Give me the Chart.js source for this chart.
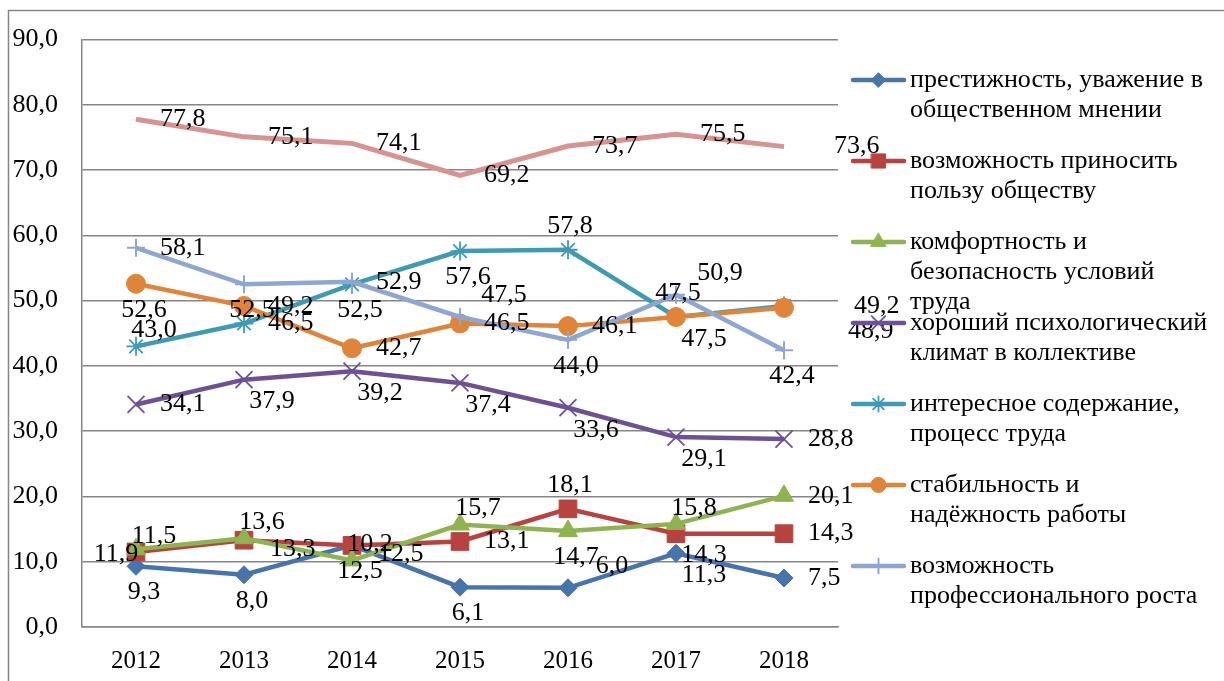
<!DOCTYPE html>
<html>
<head>
<meta charset="utf-8">
<script src="https://cdn.jsdelivr.net/npm/chart.js"></script>
<style>
  body { margin: 0; background: #fff; }
  #wrap { width: 1224px; height: 681px; position: relative; }
</style>
</head>
<body>
<div id="wrap"><canvas id="chart"></canvas></div>
<script>
// years on the x axis
const years = ['2012', '2013', '2014', '2015', '2016', '2017', '2018'];

// series values, %
const prestige = [9.3, 8.0, 12.5, 6.1, 6.0, 11.3, 7.5];
const socialBenefit = [11.5, 13.3, 12.5, 13.1, 18.1, 14.3, 14.3];
const comfort = [11.9, 13.6, 10.2, 15.7, 14.7, 15.8, 20.1];
const climate = [34.1, 37.9, 39.2, 37.4, 33.6, 29.1, 28.8];
const content = [43.0, 46.5, 52.5, 57.6, 57.8, 47.5, 49.2];
const stability = [52.6, 49.2, 42.7, 46.5, 46.1, 47.5, 48.9];
const growth = [58.1, 52.5, 52.9, 47.5, 44.0, 50.9, 42.4];
const series8 = [77.8, 75.1, 74.1, 69.2, 73.7, 75.5, 73.6];

// legend names, wrapped as in the picture
const names = [
  ['престижность, уважение в', 'общественном мнении'],
  ['возможность приносить', 'пользу обществу'],
  ['комфортность и', 'безопасность условий', 'труда'],
  ['хороший психологический', 'климат в коллективе'],
  ['интересное содержание,', 'процесс труда'],
  ['стабильность и', 'надёжность работы'],
  ['возможность', 'профессионального роста'],
];

const yTicks = { min: 0, max: 90, step: 10 };

const FONT = 'Liberation Serif';
const fmt = v => v.toFixed(1).replace('.', ',');

// label placement relative to the point
const OFF = {
  r:   { align: 'left',   dx: 24, dy: 0 },
  rb:  { align: 'left',   dx: 26, dy: 9 },
  rm:  { align: 'left',   dx: 50, dy: 0 },
  rr:  { align: 'left',   dx: 70, dy: 0 },
  rrb: { align: 'left',   dx: 64, dy: 23 },
  b:   { align: 'center', dx: 8,  dy: 26 },
  a:   { align: 'center', dx: 2,  dy: -24 },
  au:  { align: 'center', dx: 18, dy: -16 },
  ar:  { align: 'center', dx: 44, dy: -22 },
  br:  { align: 'center', dx: 28, dy: 22 },
  l:   { align: 'center', dx: -20, dy: 5 },
};

function series(i, label, data, color, style, radius, bw, labelPos) {
  return {
    label: label,
    data: data,
    borderColor: color,
    backgroundColor: color,
    borderWidth: 4.5,
    pointStyle: style,
    pointRadius: radius,
    pointBorderWidth: bw,
    pointBackgroundColor: color,
    pointBorderColor: color,
    tension: 0,
    order: -i,
    labelPos: labelPos,
    legendLines: names[i],
  };
}

const datasets = [
  series(0, names[0].join(' '), prestige, '#4674AD', 'rectRot', 9, 1, ['b','b','b','b','ar','br','r']),
  series(1, names[1].join(' '), socialBenefit, '#B6433F', 'rect', 12.5, 1, ['au','rb','rb','r','a','br','r']),
  series(2, names[2].join(' '), comfort, '#8EB44F', 'triangle', 11, 1, ['l','au','au','au','b','au','r']),
  series(3, names[3].join(' '), climate, '#6E5194', 'crossRot', 12, 1.8, ['r','br','br','br','br','br','r']),
  series(4, names[4].join(' '), content, '#3E9BB3', 'star', 9.5, 1.8, ['au','r','b','b','a','br','rr']),
  series(5, names[5].join(' '), stability, '#E0843A', 'circle', 9.5, 1, ['b','r','r','r','r','a','rrb']),
  series(6, names[6].join(' '), growth, '#8DA7D2', 'cross', 9, 2, ['r','b','r','ar','b','ar','b']),
  series(7, 'Ряд8', series8, '#D69391', 'circle', 0, 0, ['r','r','r','r','r','r','rm']),
];
datasets[7].legendLines = null;
datasets[7].borderWidth = 5;

const valueLabels = {
  id: 'valueLabels',
  afterDatasetsDraw(chart) {
    const ctx = chart.ctx;
    ctx.save();
    ctx.font = '26px "' + FONT + '"';
    ctx.fillStyle = '#000';
    ctx.textBaseline = 'middle';
    chart.data.datasets.forEach((ds, i) => {
      const meta = chart.getDatasetMeta(i);
      meta.data.forEach((pt, j) => {
        const o = OFF[ds.labelPos[j]];
        ctx.textAlign = o.align;
        ctx.fillText(fmt(ds.data[j]), pt.x + o.dx, pt.y + o.dy);
      });
    });
    ctx.restore();
  }
};

const sideLegend = {
  id: 'sideLegend',
  afterDraw(chart, args, opts) {
    const ctx = chart.ctx;
    ctx.save();
    let n = 0;
    chart.data.datasets.forEach(ds => {
      if (!ds.legendLines) return;
      const y = opts.top + n * opts.step;
      ctx.strokeStyle = ds.borderColor;
      ctx.lineWidth = 4.5;
      ctx.lineCap = 'round';
      ctx.beginPath();
      ctx.moveTo(opts.x0, y);
      ctx.lineTo(opts.x1, y);
      ctx.stroke();
      ctx.fillStyle = ds.borderColor;
      ctx.lineWidth = ds.pointBorderWidth;
      Chart.helpers.drawPoint(ctx, {
        pointStyle: ds.pointStyle,
        radius: ds.pointRadius * 0.8,
        rotation: 0,
        borderWidth: ds.pointBorderWidth
      }, (opts.x0 + opts.x1) / 2, y);
      ctx.fillStyle = '#000';
      ctx.font = '26px "' + FONT + '"';
      ctx.textAlign = 'left';
      ctx.textBaseline = 'middle';
      ds.legendLines.forEach((line, k) => {
        ctx.fillText(line, opts.textX, y + k * opts.lineGap);
      });
      n++;
    });
    ctx.restore();
  }
};

const frame = {
  id: 'frame',
  beforeDraw(chart) {
    const ctx = chart.ctx;
    ctx.save();
    ctx.fillStyle = '#fff';
    ctx.fillRect(0, 0, chart.width, chart.height);
    ctx.strokeStyle = '#868686';
    ctx.lineWidth = 1.5;
    ctx.strokeRect(8.5, 10.5, chart.width + 20, chart.height + 20);
    ctx.restore();
  }
};

new Chart(document.getElementById('chart'), {
  type: 'line',
  data: { labels: years, datasets: datasets },
  options: {
    responsive: true,
    maintainAspectRatio: false,
    animation: false,
    layout: { padding: { left: 0, top: 38, right: 386, bottom: 0 } },
    plugins: {
      legend: { display: false },
      tooltip: { enabled: false },
      sideLegend: { x0: 853, x1: 904, textX: 910, top: 80, step: 81, lineGap: 30 },
    },
    scales: {
      x: {
        offset: true,
        grid: { display: false, drawTicks: false },
        border: { display: true, color: '#868686', width: 1.5 },
        ticks: { color: '#000', font: { family: FONT, size: 25 }, padding: 19 },
        afterFit(axis) { axis.height = 54; }
      },
      y: {
        min: yTicks.min,
        max: yTicks.max,
        grid: { color: '#868686', lineWidth: 1.5, drawTicks: false },
        border: { display: true, color: '#868686', width: 1.5 },
        ticks: {
          stepSize: yTicks.step,
          color: '#000',
          font: { family: FONT, size: 26 },
          padding: 24,
          callback: v => fmt(v)
        },
        afterFit(axis) { axis.width = 82; }
      }
    }
  },
  plugins: [frame, valueLabels, sideLegend]
});
</script>
</body>
</html>
